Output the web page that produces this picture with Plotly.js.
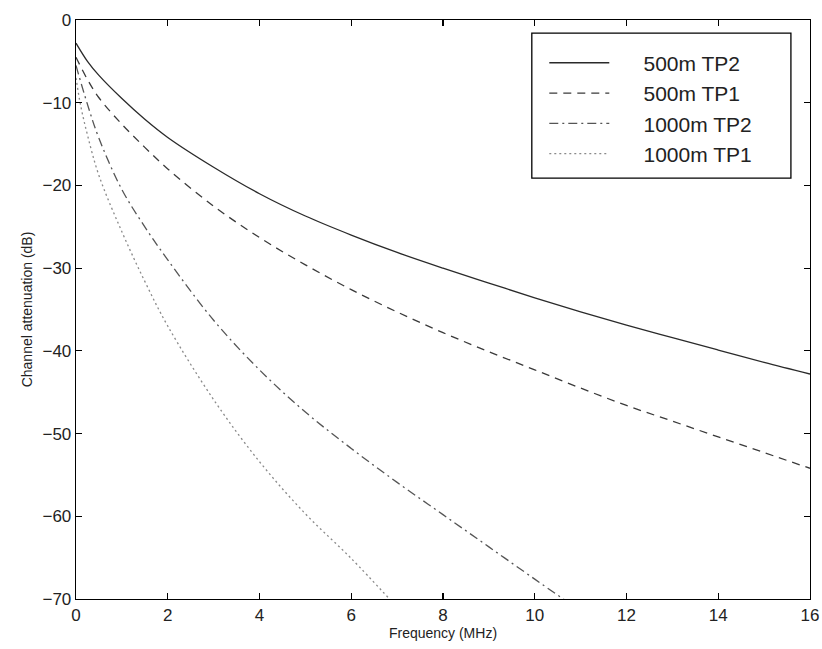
<!DOCTYPE html>
<html>
<head>
<meta charset="utf-8">
<script src="https://cdn.plot.ly/plotly-3.0.1.min.js"></script>
<style>html,body{margin:0;padding:0;background:#fff;}</style>
</head>
<body>
<div id="chart" style="width:822px;height:649px;"></div>
<script>
// Frequency (MHz) sample points and attenuation values (dB)
const freqA = [0, 0.25, 0.5, 1, 1.5, 2, 3, 4, 5, 6, 7, 8, 9, 10, 11, 12, 13, 14, 15, 16];
const tp2_500 = [-2.8, -5.0, -6.7, -9.5, -12.0, -14.2, -17.8, -21.0, -23.7, -26.0, -28.1, -30.0, -31.8, -33.6, -35.3, -36.9, -38.4, -39.9, -41.4, -42.8];
const tp1_500 = [-4.5, -7.2, -9.4, -12.6, -15.4, -18.0, -22.5, -26.3, -29.6, -32.6, -35.3, -37.8, -40.1, -42.3, -44.5, -46.6, -48.5, -50.4, -52.3, -54.2];
const freqB = [0, 0.25, 0.5, 1, 1.5, 2, 3, 4, 5, 6, 7, 8, 9, 10, 10.7];
const tp2_1000 = [-5.5, -10.2, -14.3, -20.5, -25.0, -29.0, -36.3, -42.3, -47.4, -51.8, -55.9, -59.8, -63.7, -67.6, -70.3];
const freqC = [0, 0.1, 0.25, 0.5, 1, 1.5, 2, 3, 4, 5, 6, 6.85];
const tp1_1000 = [-7.0, -10.3, -13.9, -18.8, -25.6, -31.6, -37.0, -45.9, -53.4, -59.7, -65.1, -70.1];

const xTicks = [0, 2, 4, 6, 8, 10, 12, 14, 16];
const yTicks = [0, -10, -20, -30, -40, -50, -60, -70];
const seriesNames = ["500m TP2", "500m TP1", "1000m TP2", "1000m TP1"];

const pad = "\u00a0\u00a0\u00a0\u00a0\u00a0";
const traces = [
  {x: freqA, y: tp2_500, name: pad + seriesNames[0], mode: "lines",
   line: {color: "#2a2a2a", width: 1.3, dash: "solid", shape: "spline"}},
  {x: freqA, y: tp1_500, name: pad + seriesNames[1], mode: "lines",
   line: {color: "#3a3a3a", width: 1.3, dash: "8px,6px", shape: "spline"}},
  {x: freqB, y: tp2_1000, name: pad + seriesNames[2], mode: "lines",
   line: {color: "#555555", width: 1.3, dash: "9px,4px,2px,4px", shape: "spline"}},
  {x: freqC, y: tp1_1000, name: pad + seriesNames[3], mode: "lines",
   line: {color: "#8a8a8a", width: 1.3, dash: "2px,3px", shape: "spline"}}
];

const axisCommon = {
  showline: true, linecolor: "#000", linewidth: 1.3, mirror: "ticks",
  ticks: "inside", ticklen: 6, tickcolor: "#000", tickwidth: 1.2,
  showgrid: false, zeroline: false,
  tickfont: {family: "Liberation Sans, Arial, sans-serif", size: 17, color: "#222"}
};

const layout = {
  width: 822, height: 649,
  margin: {l: 76, r: 12, t: 20, b: 50},
  paper_bgcolor: "#fff", plot_bgcolor: "#fff",
  font: {family: "Liberation Sans, Arial, sans-serif", color: "#222"},
  showlegend: true,
  xaxis: Object.assign({}, axisCommon, {
    range: [0, 16], tickvals: xTicks, ticktext: xTicks.map(String),
    title: {text: "Frequency (MHz)", font: {size: 14, color: "#222"}, standoff: 2}
  }),
  yaxis: Object.assign({}, axisCommon, {
    range: [-70, 0], tickvals: yTicks,
    title: {text: "Channel attenuation (dB)", font: {size: 14, color: "#222"}, standoff: 6}
  }),
  shapes: [{
    type: "rect", xref: "paper", yref: "paper", layer: "above",
    x0: 0.621, x1: 0.974, y0: 0.727, y1: 0.9775,
    line: {color: "#000", width: 1.3}, fillcolor: "#fff"
  }],
  legend: {
    x: 0.638, y: 0.961, xanchor: "left", yanchor: "top",
    bgcolor: "rgba(0,0,0,0)", borderwidth: 0,
    font: {family: "Liberation Sans, Arial, sans-serif", size: 21, color: "#222"},
    itemwidth: 60, tracegroupgap: 0
  }
};

Plotly.newPlot("chart", traces, layout, {displayModeBar: false, staticPlot: true});
</script>
</body>
</html>
